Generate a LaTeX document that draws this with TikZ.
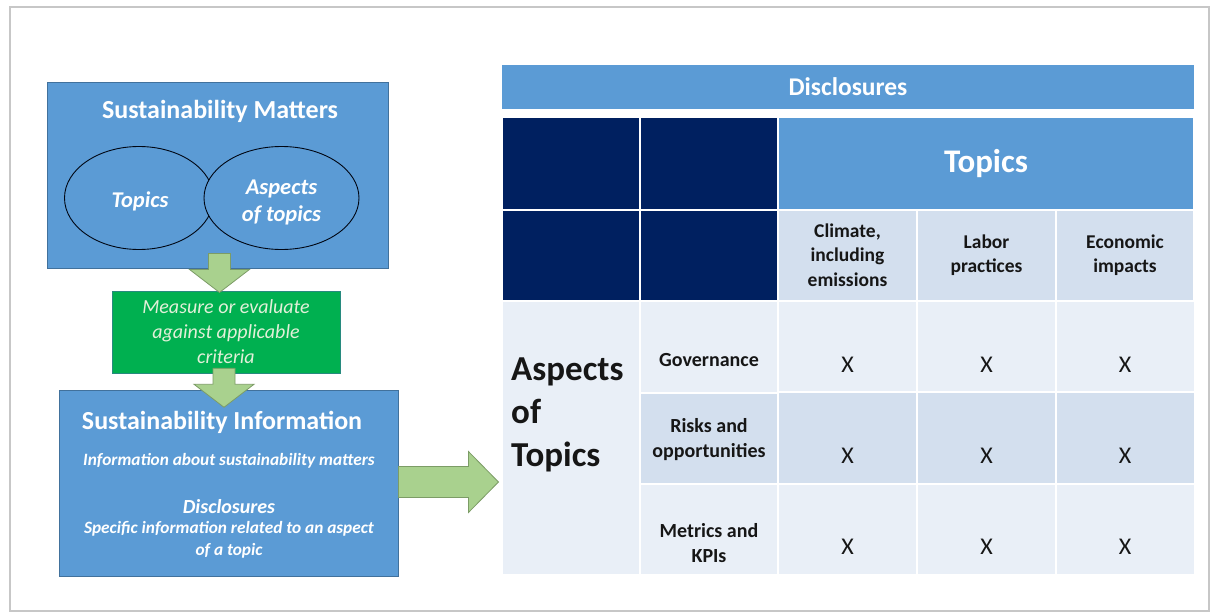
\documentclass[tikz,border=0pt]{standalone}
\usepackage{fontspec}
\setmainfont{Carlito}
\usetikzlibrary{positioning,shapes.geometric}

\definecolor{smblue}{HTML}{5B9BD5}
\definecolor{smedge}{HTML}{41719C}
\definecolor{smgreen}{HTML}{00B050}
\definecolor{mint}{HTML}{E2F0D9}
\definecolor{blkfill}{HTML}{A9D18E}
\definecolor{blkedge}{HTML}{7C9C66}
\definecolor{navy}{HTML}{002060}
\definecolor{rowmid}{HTML}{D3DFEE}
\definecolor{rowlight}{HTML}{E9EFF7}
\definecolor{ink}{HTML}{161616}

\newcommand{\fsz}[2]{\fontsize{#1}{#2}\selectfont}

\tikzset{
  bluebox/.style={draw=smedge, fill=smblue, line width=0.9pt},
  greenbox/.style={draw=smedge!60!smgreen, fill=smgreen, line width=0.6pt},
  bubble/.style={ellipse, draw=black!80!navy, line width=0.9pt, text=white,
    align=center, inner sep=0pt, font=\bfseries\itshape\fsz{22.5}{27}},
  whitetxt/.style={text=white, align=center, inner sep=0pt},
  cell/.style={draw=white, line width=2pt, inner sep=0pt, align=center,
    text=ink, font=\bfseries\fsz{19.5}{24.5}},
  xmark/.style={text=ink, inner sep=0pt, font=\fsz{24}{26}},
  blkarrow/.style={fill=blkfill, draw=blkedge, line width=0.8pt, line join=miter},
  pics/downblk/.style={code={
    \draw[blkarrow] (-11,0) -- (-11,16) -- (-30,16) -- (0,39) -- (30,16) -- (11,16) -- (11,0) -- cycle;}},
  pics/rightblk/.style={code={
    \draw[blkarrow] (0,-15.5) -- (70,-15.5) -- (70,-30.5) -- (100,0) -- (70,30.5) -- (70,15.5) -- (0,15.5) -- cycle;}}
}

\begin{document}
\begin{tikzpicture}[x=1pt,y=-1pt]
\useasboundingbox (0,0) rectangle (1215,615);
\fill[white] (0,0) rectangle (1215,615);
\draw[black!22, line width=1.4pt] (10,7) rectangle (1209,611);

% left column
\node[bluebox, minimum width=341, minimum height=186] (matters) at (217.5,175) {};
\node[whitetxt, font=\bfseries\fsz{26}{30}] (mattitle) at (220,111) {Sustainability Matters};
\node[bubble, minimum width=149, minimum height=103] (topics) at (139,198) {};
\node[bubble, fill=smblue, minimum width=155, minimum height=103] (aspects) at (281.5,198) {};
\node[whitetxt, font=\bfseries\itshape\fsz{22.5}{27}] (topicstxt) at (140,201) {Topics};
\node[whitetxt, font=\bfseries\itshape\fsz{22.5}{27}] (aspectstxt) at (281.5,202) {Aspects\\of topics};

\node[greenbox, minimum width=228, minimum height=82] (measure) at (226,332) {};
\node[text=mint, align=center, inner sep=0pt, font=\itshape\fsz{20}{25}] (measuretxt) at (226,332)
  {Measure or evaluate\\against applicable\\criteria};

\node[bluebox, minimum width=339, minimum height=186] (info) at (228.5,483) {};
\node[whitetxt, font=\bfseries\fsz{26}{30}] (infotitle) at (222,422) {Sustainability Information};
\node[whitetxt, font=\bfseries\itshape\fsz{17.3}{22}] (infoline) at (229,461) {Information about sustainability matters};
\node[whitetxt, font=\bfseries\itshape\fsz{20}{22}] (disctitle) at (229,507) {Disclosures};
\node[whitetxt, font=\bfseries\itshape\fsz{17.3}{22}] (discline) at (229,540)
  {Specific information related to an aspect\\of a topic};

% block arrows
\coordinate (a1) at ([xshift=2pt,yshift=15pt]matters.south);
\coordinate (a2) at ([xshift=-2pt,yshift=5pt]measure.south);
\coordinate (a3) at ([yshift=1pt]info.east);
\pic at (a1) {downblk};
\pic at (a2) {downblk};
\pic at (a3) {rightblk};

% table
\node[fill=smblue, minimum width=692, minimum height=44, inner sep=0pt,
  text=white, font=\bfseries\fsz{25.5}{28}] (disc) at (848,87) {Disclosures};

\node[cell, fill=navy, minimum width=138, minimum height=92.5] (n11) at (571,163.25) {};
\node[cell, fill=navy, minimum width=138, minimum height=92.5] (n12) at (709,163.25) {};
\node[cell, fill=smblue, minimum width=416, minimum height=92.5, text=white,
  font=\bfseries\fsz{33}{36}] (topichead) at (986,163.25) {Topics};
\node[cell, fill=navy, minimum width=138, minimum height=91] (n21) at (571,255) {};
\node[cell, fill=navy, minimum width=138, minimum height=91] (n22) at (709,255) {};
\node[cell, fill=rowmid, minimum width=139, minimum height=91] (clim) at (847.5,255) {Climate,\\including\\emissions};
\node[cell, fill=rowmid, minimum width=139, minimum height=91] (labor) at (986.5,255) {Labor\\practices};
\node[cell, fill=rowmid, minimum width=138, minimum height=91] (econ) at (1125,255) {Economic\\impacts};

\node[cell, fill=rowlight, minimum width=138, minimum height=274.5] (aspcell) at (571,437.75) {};
\node[anchor=west, align=left, inner sep=0pt, text=ink, font=\bfseries\fsz{35}{43}] (asptxt) at (511,415)
  {Aspects\\of\\Topics};

\node[cell, fill=rowlight, minimum width=138, minimum height=92] (gov) at (709,346.5) {};
\node[cell, fill=rowmid, minimum width=138, minimum height=91] (risk) at (709,438) {};
\node[cell, fill=rowlight, minimum width=138, minimum height=91.5] (kpi) at (709,529.25) {};
\node[cell, draw=none, fill=none, font=\bfseries\fsz{20}{25}] (govtxt) at (709,360) {Governance};
\node[cell, draw=none, fill=none, font=\bfseries\fsz{20}{25}] (risktxt) at (709,440) {Risks and\\opportunities};
\node[cell, draw=none, fill=none, font=\bfseries\fsz{20}{25}] (kpitxt) at (709,543) {Metrics and\\KPIs};

\foreach \r/\y/\f in {gov/346.5/rowlight, risk/438/rowmid, kpi/529.25/rowlight}{
  \foreach \c/\x in {clim/847.5, labor/986.5, econ/1125}{
    \node[cell, fill=\f, minimum width=139, minimum height=91.5] (\r-\c) at (\x,\y) {};
    \node[xmark] at ([yshift=-18pt]\r-\c.center) {X};
  }
}
\end{tikzpicture}
\end{document}
